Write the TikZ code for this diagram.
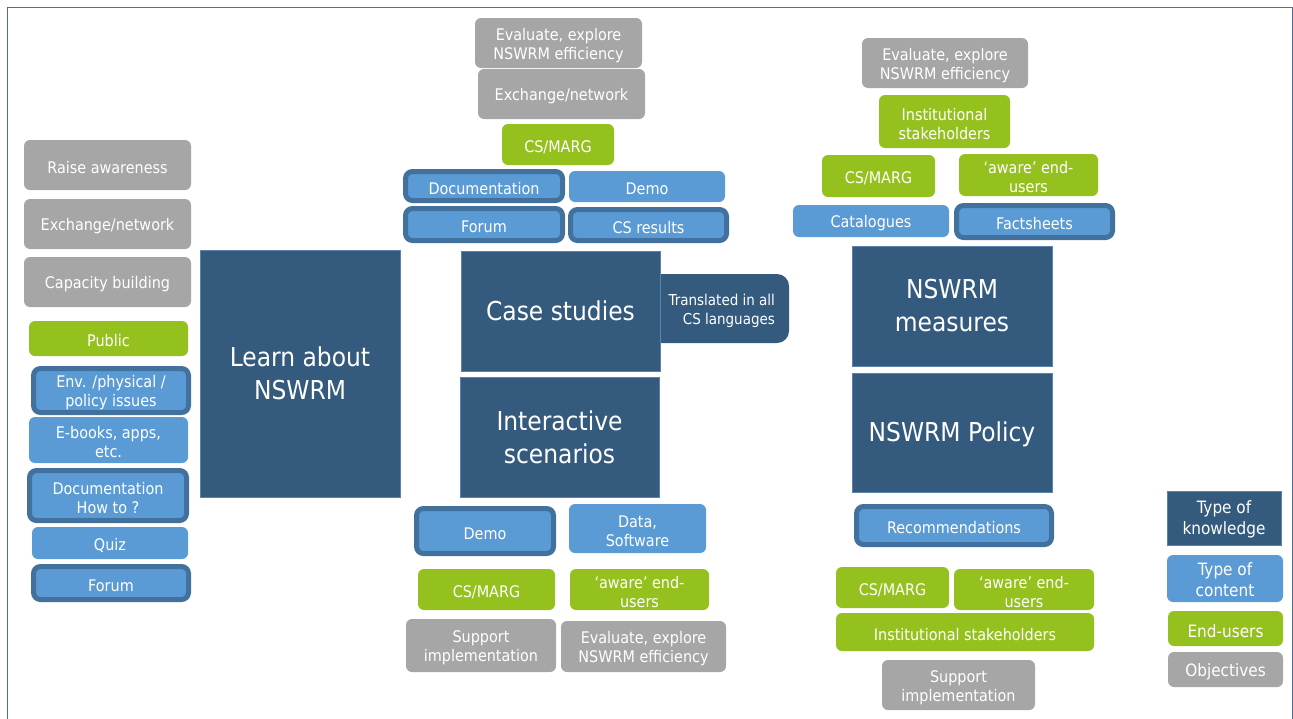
\documentclass[tikz,border=0pt]{standalone}
\usepackage{fontspec}
\setmainfont{DejaVu Sans Condensed}
\definecolor{objc}{HTML}{A6A6A6}
\definecolor{usrc}{HTML}{95C11F}
\definecolor{cntc}{HTML}{5B9BD5}
\definecolor{knowc}{HTML}{345A7E}
\definecolor{edgec}{HTML}{41719C}
\definecolor{knowedge}{HTML}{5A82AC}
\definecolor{framec}{HTML}{4F6E91}
\tikzset{
  base/.style={inner sep=0pt, outer sep=0pt, text=white, align=center, font=\fontsize{16}{19}\selectfont},
  obj/.style={base, fill=objc, rounded corners=6pt},
  usr/.style={base, fill=usrc, rounded corners=6pt},
  cnt/.style={base, fill=cntc, rounded corners=6pt},
  cntk/.style={cnt, draw=edgec, line width=5pt, rounded corners=7pt},
  know/.style={base, fill=knowc, draw=knowedge, line width=1pt, font=\fontsize{26}{33}\selectfont},
  knowsmall/.style={base, fill=knowc, draw=knowedge, line width=1pt, font=\fontsize{17}{21}\selectfont},
  leg/.style={font=\fontsize{17}{21}\selectfont},
  txt/.style={fill=none, draw=none},
}
% #1 text shift, #2 style, #3 name, #4-#7 corners, #8 text
\newcommand\bx[8][-2.5pt]{\node[#2, minimum width={#6-#4}, minimum height={#7-#5}] (#3) at ({(#4+#6)/2},{(#5+#7)/2}) {};
  \node[#2, txt, yshift=#1] (#3-t) at (#3) {#8};}
\newcommand\bxk[8][-2.5pt]{\node[#2, minimum width={#6-#4-5}, minimum height={#7-#5-5}] (#3) at ({(#4+#6)/2},{(#5+#7)/2}) {};
  \node[#2, txt, yshift=#1] (#3-t) at (#3) {#8};}
\begin{document}
\begin{tikzpicture}[x=1pt,y=-1pt]
\useasboundingbox (0,0) rectangle (1293,718);
\draw[framec, line width=1pt] (7,730) -- (7,7) -- (1292,7) -- (1292,730);
% left column
\bx{obj}{la}{24}{140}{191}{190}{Raise awareness}
\bx{obj}{lb}{24}{199}{191}{249}{Exchange/network}
\bx{obj}{lc}{24}{257}{191}{307}{Capacity building}
\bx{usr}{ld}{29}{321}{188}{356}{Public}
\bxk{cntk}{le}{31}{366}{191}{415}{Env. /physical /\\policy issues}
\bx{cnt}{lf}{29}{417}{188}{463}{E-books, apps,\\etc.}
\bxk{cntk}{lg}{27}{468}{189}{523}{Documentation\\How to ?}
\bx{cnt}{lh}{32}{527}{188}{559}{Quiz}
\bxk{cntk}{li}{31}{564}{191}{602}{Forum}
\bx[0pt]{know}{learn}{200}{250}{400}{497}{Learn about\\NSWRM}
% middle column
\bx{obj}{ma}{475}{18}{642}{68}{Evaluate, explore\\NSWRM efficiency}
\bx{obj}{mb}{478}{69}{645}{119}{Exchange/network}
\bx{usr}{mc}{502}{124}{614}{165}{CS/MARG}
\bxk{cntk}{md}{403}{169}{565}{203}{Documentation}
\bx{cnt}{me}{569}{171}{725}{202}{Demo}
\bxk{cntk}{mf}{403}{206}{565}{243}{Forum}
\bxk{cntk}{mg}{568}{207}{729}{243}{CS results}
\fill[knowc, rounded corners=12pt] (640,274) rectangle (789,343);
\node[base, anchor=east, align=right, font=\fontsize{15}{19}\selectfont] (trans) at (775,310.5) {Translated in all\\CS languages};
\bx[0pt]{know}{cases}{461}{251}{660}{371}{Case studies}
\bx[0pt]{know}{inter}{460}{377}{659}{497}{Interactive\\scenarios}
\bxk{cntk}{mh}{414}{506}{556}{556}{Demo}
\bx{cnt}{mi}{569}{504}{706}{553}{Data,\\Software}
\bx{usr}{mj}{418}{569}{555}{610}{CS/MARG}
\bx{usr}{mk}{570}{569}{709}{610}{‘aware’ end-\\users}
\bx{obj}{ml}{406}{619}{556}{672}{Support\\implementation}
\bx{obj}{mm}{561}{621}{726}{672}{Evaluate, explore\\NSWRM efficiency}
% right column
\bx{obj}{ra}{862}{38}{1028}{88}{Evaluate, explore\\NSWRM efficiency}
\bx{usr}{rb}{879}{95}{1010}{148}{Institutional\\stakeholders}
\bx{usr}{rc}{822}{155}{935}{197}{CS/MARG}
\bx{usr}{rd}{959}{154}{1098}{196}{‘aware’ end-\\users}
\bx{cnt}{re}{793}{205}{949}{237}{Catalogues}
\bxk{cntk}{rf}{954}{203}{1115}{240}{Factsheets}
\bx[0pt]{know}{meas}{852}{246}{1052}{366}{NSWRM\\measures}
\bx[-1.5pt]{know}{pol}{852}{373}{1052}{492}{NSWRM Policy}
\bxk{cntk}{rg}{854}{504}{1054}{547}{Recommendations}
\bx{usr}{rh}{836}{567}{949}{608}{CS/MARG}
\bx{usr}{ri}{954}{569}{1094}{610}{‘aware’ end-\\users}
\bx{usr}{rj}{836}{613}{1094}{651}{Institutional stakeholders}
\bx{obj}{rk}{882}{660}{1035}{710}{Support\\implementation}
% legend
\bx[-1.5pt]{knowsmall}{ka}{1167}{491}{1281}{545}{Type of\\knowledge}
\bx[-1.5pt]{cnt,leg}{kb}{1167}{555}{1283}{602}{Type of\\content}
\bx{usr,leg}{kc}{1168}{611}{1283}{646}{End-users}
\bx{obj,leg}{kd}{1168}{652}{1283}{687}{Objectives}
\end{tikzpicture}
\end{document}
